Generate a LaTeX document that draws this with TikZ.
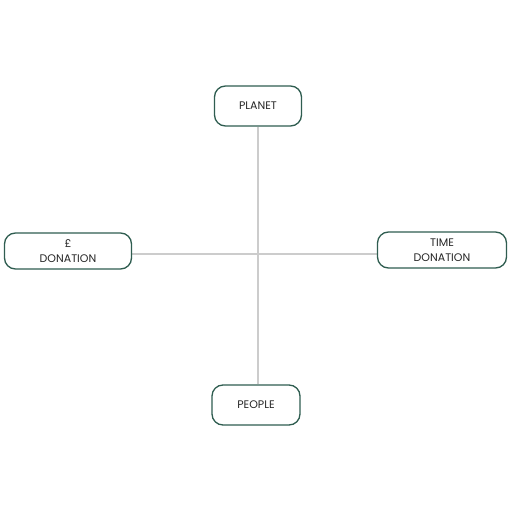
\documentclass[tikz,border=0pt]{standalone}
\usepackage{fontspec}
\setmainfont{Poppins}
\usetikzlibrary{backgrounds}
\definecolor{boxgreen}{HTML}{2F5D50}
\definecolor{axisgrey}{HTML}{CCCCCC}
\definecolor{textdark}{HTML}{262626}
\tikzset{
    pillar/.style={draw=boxgreen, line width=1.3pt, rounded corners=11pt, fill=white,
        align=center, text=textdark, font=\fontsize{11}{14.5}\selectfont, inner sep=0pt},
    axis/.style={draw=axisgrey, line width=1.2pt}
}
\begin{document}
\begin{tikzpicture}[x=1pt,y=-1pt]
    \useasboundingbox (0,0) rectangle (510,510);

    \coordinate (centre) at (258,254);

    \node[pillar, minimum width=87pt, minimum height=40pt] (planet) at (258,106) {PLANET};
    \node[pillar, minimum width=88pt, minimum height=40pt] (people) at (256,405) {PEOPLE};
    \node[pillar, minimum width=127pt, minimum height=36pt] (money) at (68,251) {£\\DONATION};
    \node[pillar, minimum width=129pt, minimum height=36pt] (time) at (442,250) {TIME\\DONATION};

    \begin{scope}[on background layer]
    \fill[white] (0,0) rectangle (510,510);
    \draw[axis] (planet.south -| centre) -- (people.north -| centre);
    \draw[axis] (money.east |- centre) -- (time.west |- centre);
    \end{scope}
\end{tikzpicture}
\end{document}
